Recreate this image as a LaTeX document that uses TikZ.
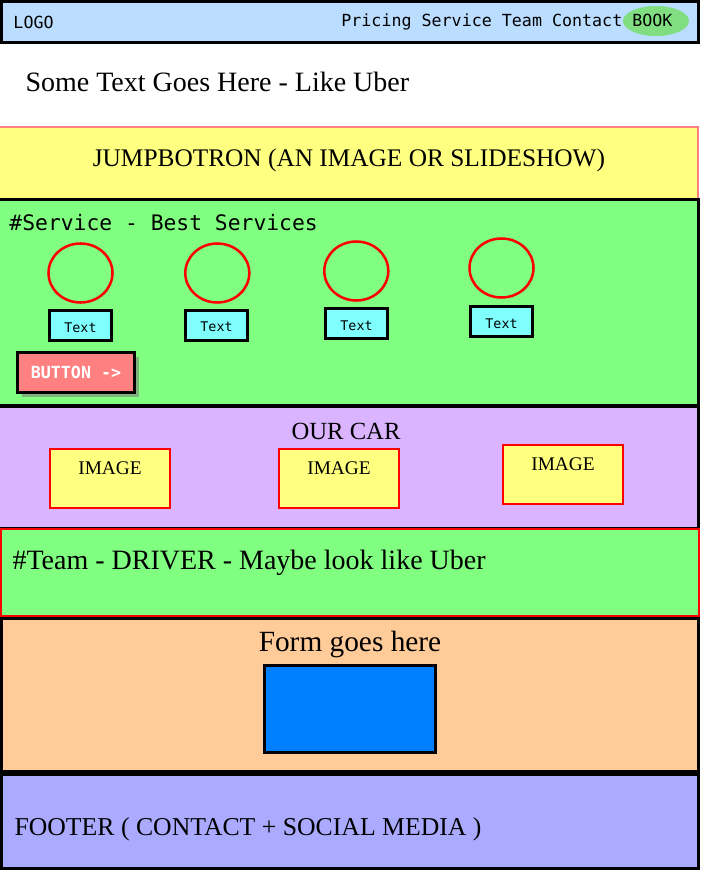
\documentclass[tikz,border=0pt]{standalone}
\usepackage{fontspec}
\setmainfont{Liberation Serif}
\setmonofont{DejaVu Sans Mono}
\usetikzlibrary{shadows}

\definecolor{hdrblue}{RGB}{187,221,255}
\definecolor{bookgreen}{RGB}{128,221,128}
\definecolor{jumboyellow}{RGB}{255,255,128}
\definecolor{jumbopink}{RGB}{255,128,128}
\definecolor{servgreen}{RGB}{128,255,128}
\definecolor{textcyan}{RGB}{128,255,255}
\definecolor{btnred}{RGB}{255,128,128}
\definecolor{carpurple}{RGB}{218,180,255}
\definecolor{formpeach}{RGB}{255,204,153}
\definecolor{formblue}{RGB}{0,128,255}
\definecolor{footblue}{RGB}{170,170,255}

\tikzset{every picture/.style={line width=0.75pt}}
\tikzset{
	band/.style={draw=black, line width=2.25pt},
	serif text/.style={inner sep=0pt, font=\fontsize{#1}{#1}\selectfont},
	mono text/.style={inner sep=0pt, font=\ttfamily\fontsize{#1}{#1}\selectfont},
	ring/.style={draw=red, line width=1.9pt},
	textbox/.style={draw=black, line width=2.25pt, fill=textcyan, inner sep=0pt,
		minimum width=46pt, minimum height=22.5pt, text height=10pt, text depth=0pt,
		font=\ttfamily\fontsize{10}{10}\selectfont},
	button/.style={draw=black, line width=2.25pt, fill=btnred, text=white, inner sep=0pt,
		minimum width=87.75pt, minimum height=30.2pt, font=\ttfamily\bfseries\fontsize{12.5}{12.5}\selectfont,
		drop shadow={shadow xshift=3pt, shadow yshift=-3pt, opacity=0.6}},
	imgframe/.style={draw=red, line width=1.9pt, fill=jumboyellow}}

\begin{document}
\begin{tikzpicture}[x=0.75pt,y=0.75pt,yscale=-1,xscale=1]
	\useasboundingbox (0,0) rectangle (700,870);

	%Shape: Rectangle (header)
	\draw [band, fill=hdrblue] (1.5,1.5) rectangle (698.5,42.5);
	%Shape: Ellipse (highlight)
	\fill [bookgreen] (656,21) ellipse (33 and 15);
	% Text Node
	\node [mono text=12.5, anchor=west] (logo) at (13,22) {LOGO};
	% Text Node
	\node [mono text=12.5, anchor=east] (menu) at (673,22) {Pricing Service Team Contact BOOK};

	% Text Node
	\node [serif text=21, anchor=west] (tagline) at (25,82) {Some Text Goes Here - Like Uber};

	%Shape: Rectangle (jumbotron)
	\draw [draw=jumbopink, line width=1.5pt, fill=jumboyellow] (-3,127) rectangle (698,210);
	% Text Node
	\node [serif text=19] (jumbo) at (349,160) {JUMPBOTRON (AN IMAGE OR SLIDESHOW)};

	%Shape: Rectangle (service)
	\draw [band, fill=servgreen] (-3,199) rectangle (698.5,405.5);
	% Text Node
	\node [mono text=16, anchor=west] (servtitle) at (9,223) {\#Service - Best Services};
	%Shape: Circle + Text boxes
	\foreach \cx/\cy/\bx/\by [count=\i] in {80.5/273/80.5/325.8, 217.3/273/216.5/325, 356.3/271/356.5/323.9, 501.5/268/501.5/321.9}{
		\draw [ring] (\cx,\cy) ellipse (32 and 29.5);
		\node [textbox] (txt\i) at (\bx,\by) {Text};
	}
	% Button
	\node [button] (btn) at (76,372.7) {BUTTON ->};

	%Shape: Rectangle (our car)
	\draw [band, fill=carpurple] (-3,406.5) rectangle (698.5,528);
	% Text Node
	\node [serif text=18.5] (ourcar) at (346,431) {OUR CAR};
	%Shape: Image boxes
	\foreach \x/\y [count=\i] in {50/449, 279/449, 503/445}{
		\draw [imgframe] (\x,\y) rectangle ++(120,59);
		\node [serif text=14.5] (img\i) at (\x+60,\y+19) {IMAGE};
	}

	%Shape: Rectangle (team)
	\draw [draw=red, line width=1.5pt, fill=servgreen] (0.5,528.5) rectangle (699,616);
	% Text Node
	\node [serif text=21, anchor=west] (team) at (12,563) {\#Team - DRIVER - Maybe look like Uber};

	%Shape: Rectangle (form)
	\draw [band, fill=formpeach] (1.5,618.5) rectangle (698.5,771.5);
	% Text Node
	\node [serif text=22] (formtitle) at (350,644) {Form goes here};
	%Shape: Rectangle (form field)
	\draw [band, fill=formblue] (264.5,665.5) rectangle (435.5,752.5);

	%Shape: Rectangle (footer)
	\draw [band, fill=footblue] (1.5,774.5) rectangle (698.5,868.5);
	% Text Node
	\node [serif text=19.3, anchor=west] (footer) at (14,829) {FOOTER ( CONTACT + SOCIAL MEDIA )};

\end{tikzpicture}
\end{document}
